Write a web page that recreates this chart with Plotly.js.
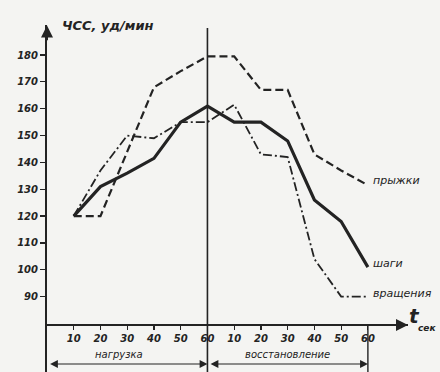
<!DOCTYPE html>
<html>
<head>
<meta charset="utf-8">
<script src="https://cdn.plot.ly/plotly-3.0.1.min.js"></script>
<style>html,body{margin:0;padding:0;background:#f4f4f2;}#chart{width:440px;height:372px;}</style>
</head>
<body>
<div id="chart"></div>
<script>
// time points (load 10..60 s, then recovery 10..60 s mapped to 70..120)
const timeX = [10, 20, 30, 40, 50, 60, 70, 80, 90, 100, 110, 120];
const xTickVals = [10, 20, 30, 40, 50, 60, 70, 80, 90, 100, 110, 120];
const xTickText = ['10', '20', '30', '40', '50', '60', '10', '20', '30', '40', '50', '60'];
const yTickVals = [90, 100, 110, 120, 130, 140, 150, 160, 170, 180];
const yTickText = ['90', '100', '110', '120', '130', '140', '150', '160', '170', '180'];

// heart rate series
const steps     = [120, 131, 136, 141.5, 155, 161, 155, 155, 148, 126, 118, 101];   // шаги
const jumps     = [120, 120, 144, 168, 174, 179.5, 179.5, 167, 167, 143, 137, 131.5]; // прыжки
const rotations = [120, 137, 150, 149, 155, 155, 161.5, 143, 142, 104, 90, 90];     // вращения

const seriesNames = ['шаги', 'прыжки', 'вращения'];
const ink = '#232323';
const fontFam = 'DejaVu Sans, Liberation Sans, sans-serif';

const traces = [
  {x: timeX, y: steps, mode: 'lines', name: seriesNames[0],
   line: {color: ink, width: 3.2}},
  {x: timeX, y: jumps, mode: 'lines', name: seriesNames[1],
   line: {color: ink, width: 2.2, dash: '8px,4px'}},
  {x: timeX, y: rotations, mode: 'lines', name: seriesNames[2],
   line: {color: ink, width: 1.8, dash: '9px,3px,2px,3px'}}
];

const yMin = 61.9, yMax = 191.2, xAxisY = 79.4;
const xAxisPos = (xAxisY - yMin) / (yMax - yMin);

const tickFont = {family: fontFam, size: 10, color: ink, style: 'italic', weight: 'bold'};
const labFont = {family: fontFam, size: 11, color: ink, style: 'italic'};

const layout = {
  width: 440, height: 372,
  margin: {l: 47, r: 32, t: 25, b: 0},
  paper_bgcolor: '#f4f4f2', plot_bgcolor: '#f4f4f2',
  showlegend: false,
  xaxis: {
    range: [0, 135], anchor: 'free', position: xAxisPos,
    showgrid: false, zeroline: false,
    showline: true, linecolor: ink, linewidth: 2,
    ticks: 'outside', ticklen: 4, tickwidth: 1.2, tickcolor: ink,
    tickvals: xTickVals, ticktext: xTickText, tickfont: tickFont
  },
  yaxis: {
    range: [yMin, yMax],
    showgrid: false, zeroline: false,
    showline: true, linecolor: ink, linewidth: 2,
    ticks: 'outside', ticklen: 5, tickwidth: 1.2, tickcolor: ink,
    tickvals: yTickVals, ticktext: yTickText, tickfont: tickFont
  },
  shapes: [
    {type: 'line', xref: 'x', yref: 'paper', x0: 60, x1: 60, y0: 0, y1: 0.991,
     line: {color: ink, width: 1.6}},
    {type: 'line', xref: 'x', yref: 'paper', x0: 120, x1: 120, y0: 0, y1: xAxisPos,
     line: {color: ink, width: 1.4}}
  ],
  annotations: [
    // axis arrows
    {x: 135, y: xAxisY, xref: 'x', yref: 'y', ax: 129, ay: xAxisY, axref: 'x', ayref: 'y',
     text: '', showarrow: true, arrowhead: 2, arrowsize: 1.2, arrowwidth: 2, arrowcolor: ink},
    {x: 0, y: 191, xref: 'x', yref: 'y', ax: 0, ay: 185, axref: 'x', ayref: 'y',
     text: '', showarrow: true, arrowhead: 2, arrowsize: 1.2, arrowwidth: 2, arrowcolor: ink},
    // bracket arrows
    {x: 60, y: 0.023, xref: 'x', yref: 'paper', ax: 0.6, ay: 0, axref: 'x', ayref: 'pixel',
     text: '', showarrow: true, arrowhead: 2, arrowside: 'end+start', arrowsize: 1.3, arrowwidth: 1.2, arrowcolor: ink},
    {x: 120, y: 0.023, xref: 'x', yref: 'paper', ax: 60.6, ay: 0, axref: 'x', ayref: 'pixel',
     text: '', showarrow: true, arrowhead: 2, arrowside: 'end+start', arrowsize: 1.3, arrowwidth: 1.2, arrowcolor: ink},
    // section labels
    {x: 27, y: 0.049, xref: 'x', yref: 'paper', text: 'нагрузка', showarrow: false,
     font: {family: fontFam, size: 10, color: ink, style: 'italic'}, yanchor: 'middle'},
    {x: 90, y: 0.049, xref: 'x', yref: 'paper', text: 'восстановление', showarrow: false,
     font: {family: fontFam, size: 10, color: ink, style: 'italic'}, yanchor: 'middle'},
    // series labels
    {x: 121, y: 133.4, xref: 'x', yref: 'y', text: 'прыжки', showarrow: false,
     xanchor: 'left', font: labFont},
    {x: 121, y: 102.5, xref: 'x', yref: 'y', text: 'шаги', showarrow: false,
     xanchor: 'left', font: labFont},
    {x: 121, y: 91.3, xref: 'x', yref: 'y', text: 'вращения', showarrow: false,
     xanchor: 'left', font: labFont},
    // axis titles
    {x: 0.036, y: 1.0, xref: 'paper', yref: 'paper', text: 'ЧСС, уд/мин', showarrow: false,
     xanchor: 'left', yanchor: 'middle',
     font: {family: fontFam, size: 13, color: ink, style: 'italic', weight: 'bold'}},
    {x: 0.998, y: 0.16, xref: 'paper', yref: 'paper', text: 't', showarrow: false,
     xanchor: 'left', yanchor: 'middle',
     font: {family: fontFam, size: 20, color: ink, style: 'italic', weight: 'bold'}},
    {x: 1.0215, y: 0.128, xref: 'paper', yref: 'paper', text: 'сек', showarrow: false,
     xanchor: 'left', yanchor: 'middle',
     font: {family: fontFam, size: 9, color: ink, style: 'italic', weight: 'bold'}}
  ]
};

Plotly.newPlot('chart', traces, layout, {displayModeBar: false, staticPlot: true});
</script>
</body>
</html>
